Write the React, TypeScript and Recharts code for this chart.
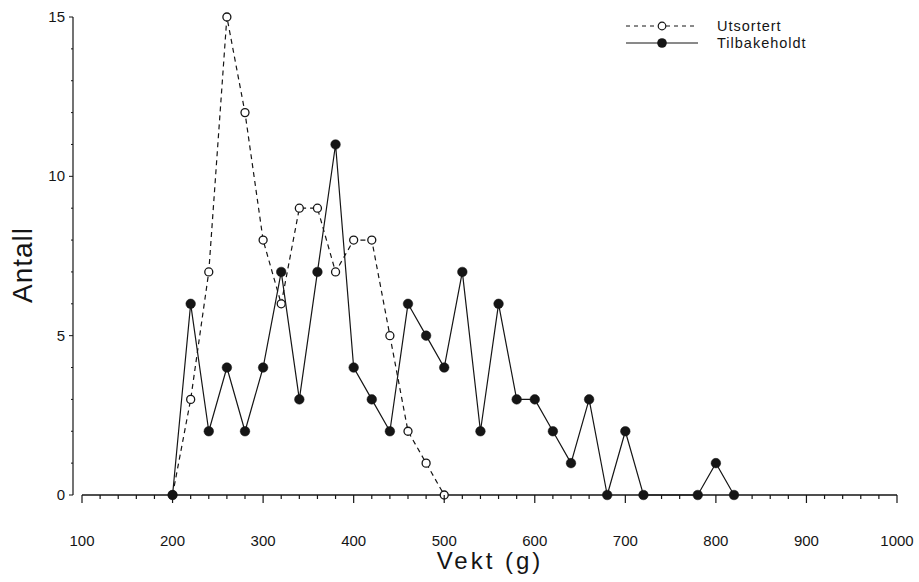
import {
  LineChart,
  Line,
  XAxis,
  YAxis,
  Legend,
  ReferenceLine,
  Label,
} from 'recharts';

// weight classes (g)
const vekt = [200, 220, 240, 260, 280, 300, 320, 340, 360, 380, 400, 420, 440, 460, 480, 500];
const utsortert = [0, 3, 7, 15, 12, 8, 6, 9, 9, 7, 8, 8, 5, 2, 1, 0];

const vektTilbake = [
  200, 220, 240, 260, 280, 300, 320, 340, 360, 380, 400, 420, 440, 460, 480, 500,
  520, 540, 560, 580, 600, 620, 640, 660, 680, 700, 720, 780, 800, 820,
];
const tilbakeholdt = [
  0, 6, 2, 4, 2, 4, 7, 3, 7, 11, 4, 3, 2, 6, 5, 4,
  7, 2, 6, 3, 3, 2, 1, 3, 0, 2, 0, 0, 1, 0,
];

const xTicks = Array.from({ length: 46 }, (_, i) => 100 + i * 20);
const yTicks = Array.from({ length: 16 }, (_, i) => i);
const xLabelled = [100, 200, 300, 400, 500, 600, 700, 800, 900, 1000];
const yLabelled = [0, 5, 10, 15];

const utsortertData = vekt.map((x, i) => ({ x, y: utsortert[i] }));
const tilbakeData = vektTilbake.map((x, i) => ({ x, y: tilbakeholdt[i] }));

const INK = '#151515';
const tickFont = "'Liberation Sans', Arial, sans-serif";

const XTick = (props: any) => {
  const { x, y, payload } = props;
  const major = xLabelled.includes(payload.value);
  return (
    <g>
      <line x1={x} x2={x} y1={y} y2={y + (major ? 8 : 4)} stroke={INK} strokeWidth={1.2} />
      {major && (
        <text x={x} y={y + 51} textAnchor='middle' fontSize={15} fontFamily={tickFont} fill={INK}>
          {payload.value}
        </text>
      )}
    </g>
  );
};

const YTick = (props: any) => {
  const { x, y, payload } = props;
  const major = yLabelled.includes(payload.value);
  return (
    <g>
      <line x1={x - (major ? 4 : 2)} x2={x} y1={y} y2={y} stroke={INK} strokeWidth={1} />
      {major && (
        <text x={x - 8} y={y + 5} textAnchor='end' fontSize={15} fontFamily={tickFont} fill={INK}>
          {payload.value}
        </text>
      )}
    </g>
  );
};

const OpenDot = (props: any) => {
  const { cx, cy } = props;
  if (cx == null || cy == null) return null;
  return <circle cx={cx} cy={cy} r={4} fill='#fff' stroke={INK} strokeWidth={1.3} />;
};

const FilledDot = (props: any) => {
  const { cx, cy } = props;
  if (cx == null || cy == null) return null;
  return <circle cx={cx} cy={cy} r={4.8} fill={INK} stroke={INK} strokeWidth={0.5} />;
};

const LegendBox = () => {
  const row = (name: string, dashed: boolean) => (
    <div style={{ display: 'flex', alignItems: 'center', height: 17 }}>
      <svg width={94} height={14} style={{ display: 'block' }}>
        <line
          x1={3}
          x2={75}
          y1={7}
          y2={7}
          stroke={INK}
          strokeWidth={1}
          strokeDasharray={dashed ? '4 4' : undefined}
        />
        {dashed ? (
          <circle cx={39} cy={7} r={3.8} fill='#fff' stroke={INK} strokeWidth={1.2} />
        ) : (
          <circle cx={39} cy={7} r={4.8} fill={INK} />
        )}
      </svg>
      <span style={{ fontFamily: tickFont, fontSize: 14.5, letterSpacing: 1, color: INK }}>{name}</span>
    </div>
  );
  return (
    <div>
      {row('Utsortert', true)}
      {row('Tilbakeholdt', false)}
    </div>
  );
};

export default function App() {
  return (
    <div style={{ position: 'absolute', left: 0, top: 0, background: '#fff' }}>
      <LineChart width={919} height={582} margin={{ top: 17, right: 22, bottom: 7, left: 0 }}>
        <XAxis
          type='number'
          dataKey='x'
          domain={[100, 1000]}
          ticks={xTicks}
          padding={{ left: 9, right: 0 }}
          axisLine={false}
          tickLine={false}
          tickSize={0}
          tickMargin={0}
          interval={0}
          tick={<XTick />}
          height={80}
        >
          <Label
            content={({ viewBox }: any) => (
              <text
                x={viewBox.x + viewBox.width / 2 + 5}
                y={viewBox.y + 74}
                textAnchor='middle'
                fontSize={24}
                letterSpacing={3}
                fontFamily={tickFont}
                fill={INK}
              >
                Vekt (g)
              </text>
            )}
          />
        </XAxis>
        <YAxis
          type='number'
          dataKey='y'
          domain={[0, 15]}
          ticks={yTicks}
          interval={0}
          width={73}
          axisLine={{ stroke: INK, strokeWidth: 1.2 }}
          tickLine={false}
          tickSize={0}
          tickMargin={0}
          tick={<YTick />}
        >
          <Label
            content={({ viewBox }: any) => {
              const cx = viewBox.x + 32;
              const cy = viewBox.y + 248;
              return (
                <text
                  x={cx}
                  y={cy}
                  transform={`rotate(-90, ${cx}, ${cy})`}
                  textAnchor='middle'
                  fontSize={28}
                  letterSpacing={1}
                  fontFamily={tickFont}
                  fill={INK}
                >
                  Antall
                </text>
              );
            }}
          />
        </YAxis>
        <ReferenceLine
          segment={[
            { x: 100, y: 0 },
            { x: 1000, y: 0 },
          ]}
          stroke={INK}
          strokeWidth={1.5}
        />
        <Legend
          layout='horizontal'
          verticalAlign='middle'
          align='center'
          content={<LegendBox />}
          wrapperStyle={{ position: 'absolute', top: 17, left: 623, width: 220 }}
        />
        <Line
          data={utsortertData}
          dataKey='y'
          type='linear'
          stroke={INK}
          strokeWidth={1.2}
          strokeDasharray='5 4'
          dot={<OpenDot />}
          activeDot={false}
          isAnimationActive={false}
          name='Utsortert'
        />
        <Line
          data={tilbakeData}
          dataKey='y'
          type='linear'
          stroke={INK}
          strokeWidth={1.2}
          dot={<FilledDot />}
          activeDot={false}
          isAnimationActive={false}
          name='Tilbakeholdt'
        />
      </LineChart>
    </div>
  );
}
